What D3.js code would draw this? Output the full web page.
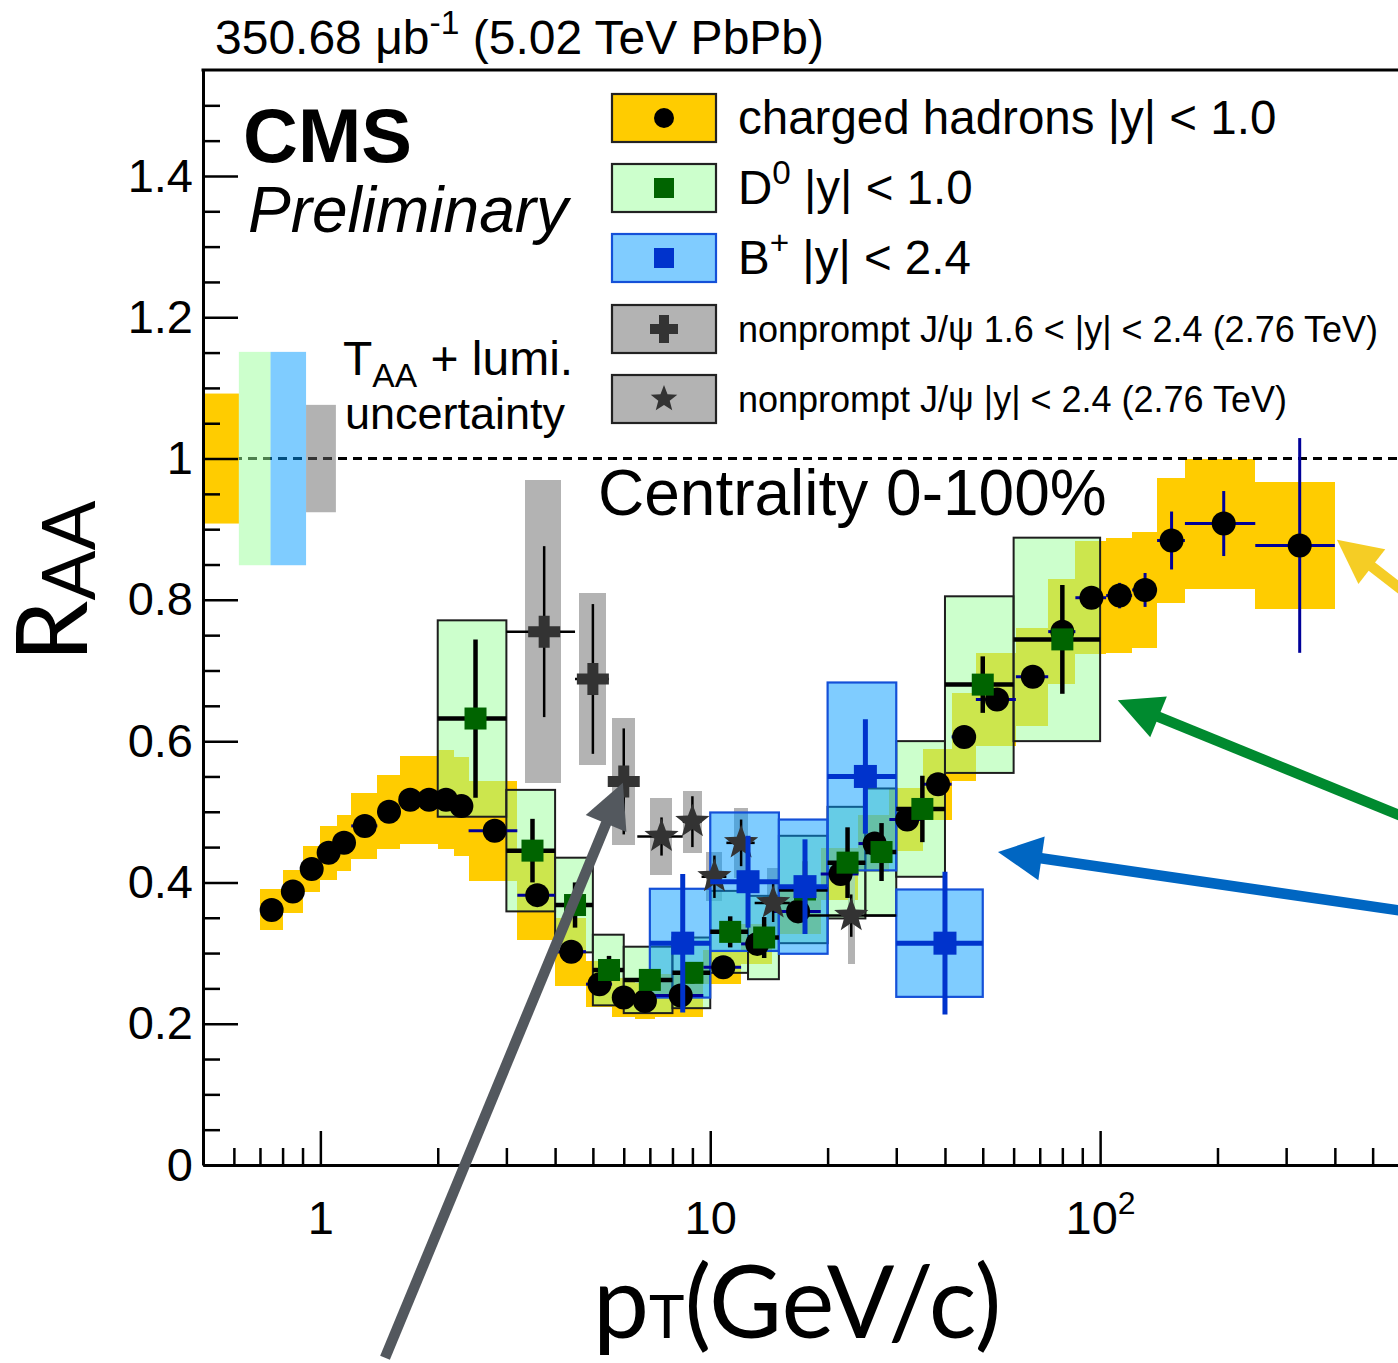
<!DOCTYPE html>
<html>
<head>
<meta charset="utf-8">
<script src="https://cdnjs.cloudflare.com/ajax/libs/d3/7.8.5/d3.min.js"></script>
<style>
body { margin: 0; background: #fff; }
svg { display: block; }
text { font-family: "Liberation Sans", Arial, Helvetica, sans-serif; fill: #000; }
.title-font { font-family: Lato, "Open Sans", sans-serif; }
</style>
</head>
<body>
<svg id="chart" width="1398" height="1363"></svg>
<script>
// charged hadrons |y| < 1.0
const hadronEdges = [0.7, 0.8, 0.9, 1.0, 1.1, 1.2, 1.4, 1.6, 1.8, 2.0, 2.2, 2.4, 3.2, 4.0, 4.8, 5.6, 6.4, 7.2, 9.6, 12, 14.4, 19.2, 24, 28.8, 35.2, 41.6, 48, 60.8, 73.6, 86.4, 103.6, 120.8, 140, 165, 250, 400];
const hadronPt = [0.75, 0.85, 0.95, 1.05, 1.15, 1.3, 1.5, 1.7, 1.9, 2.1, 2.3, 2.8, 3.6, 4.4, 5.2, 6.0, 6.8, 8.4, 10.8, 13.2, 16.8, 21.6, 26.4, 32, 38.4, 44.8, 54.4, 67.2, 80, 95, 112.2, 130.4, 152.5, 207.5, 325];
const hadronRaa = [0.361, 0.387, 0.419, 0.442, 0.456, 0.480, 0.500, 0.517, 0.517, 0.517, 0.508, 0.473, 0.382, 0.302, 0.256, 0.237, 0.232, 0.240, 0.280, 0.313, 0.359, 0.412, 0.455, 0.489, 0.539, 0.606, 0.659, 0.691, 0.755, 0.803, 0.806, 0.814, 0.884, 0.908, 0.877];
const hadronStat = [0.002, 0.002, 0.002, 0.002, 0.002, 0.002, 0.002, 0.002, 0.002, 0.002, 0.002, 0.003, 0.003, 0.003, 0.003, 0.003, 0.003, 0.004, 0.004, 0.004, 0.005, 0.005, 0.006, 0.006, 0.007, 0.008, 0.009, 0.010, 0.012, 0.015, 0.018, 0.024, 0.041, 0.046, 0.152];
const hadronSyst = [0.029, 0.030, 0.033, 0.038, 0.040, 0.047, 0.052, 0.062, 0.062, 0.070, 0.070, 0.071, 0.064, 0.048, 0.033, 0.027, 0.026, 0.030, 0.024, 0.028, 0.032, 0.037, 0.040, 0.044, 0.050, 0.062, 0.066, 0.069, 0.074, 0.080, 0.081, 0.082, 0.089, 0.092, 0.090];

// D0 |y| < 1.0
const d0Edges = [2, 3, 4, 5, 6, 8, 10, 12.5, 15, 20, 25, 30, 40, 60, 100];
const d0Pt = [2.5, 3.5, 4.5, 5.5, 7, 9, 11.25, 13.75, 17.5, 22.5, 27.5, 35, 50, 80];
const d0Raa = [0.632, 0.445, 0.368, 0.276, 0.262, 0.272, 0.330, 0.322, 0.390, 0.428, 0.443, 0.504, 0.680, 0.744];
const d0Stat = [0.112, 0.045, 0.032, 0.020, 0.015, 0.015, 0.022, 0.029, 0.040, 0.050, 0.041, 0.047, 0.040, 0.077];
const d0Syst = [0.139, 0.086, 0.067, 0.050, 0.047, 0.050, 0.058, 0.059, 0.076, 0.079, 0.090, 0.096, 0.125, 0.144];

// B+ |y| < 2.4
const bEdges = [7, 10, 15, 20, 30, 50];
const bPt = [8.5, 12.5, 17.5, 25, 40];
const bRaa = [0.314, 0.401, 0.394, 0.550, 0.314];
const bStat = [0.098, 0.065, 0.067, 0.081, 0.101];
const bSyst = [0.077, 0.098, 0.095, 0.133, 0.076];

// nonprompt J/psi 1.6 < |y| < 2.4 (2.76 TeV)
const fwdPt = [3.75, 5.0, 6.0];
const fwdLo = [3.0, 4.5, 5.5];
const fwdHi = [4.5, 5.5, 6.5];
const fwdRaa = [0.755, 0.688, 0.543];
const fwdStat = [0.121, 0.106, 0.075];
const fwdSyst = [0.214, 0.122, 0.090];
const fwdBoxHalf = 0.4;

// nonprompt J/psi |y| < 2.4 (2.76 TeV)
const midPt = [7.5, 9.0, 10.25, 12.0, 14.5, 23.0];
const midLo = [6.5, 8.5, 9.5, 11, 13, 16];
const midHi = [8.5, 9.5, 11, 13, 16, 30];
const midRaa = [0.465, 0.486, 0.408, 0.456, 0.371, 0.353];
const midStat = [0.027, 0.036, 0.030, 0.033, 0.027, 0.030];
const midSyst = [0.054, 0.044, 0.035, 0.050, 0.050, 0.069];
const midBoxHalf = 0.5;

// TAA + lumi. uncertainty boxes at RAA = 1
const taaEdges = [0.5, 0.618, 0.745, 0.919, 1.096];
const taaUnc = [0.092, 0.151, 0.151, 0.076];

// pointer arrows (tip and tail, in pT / RAA)
const arrowTipPt = [5.97, 405, 111, 54.7];
const arrowTipRaa = [0.541, 0.885, 0.658, 0.443];
const arrowTailPt = [1.465, 789, 789, 789];
const arrowTailRaa = [-0.273, 0.762, 0.466, 0.350];
const arrowColours = ["#53585e", "#f5cd25", "#008a2f", "#0066c2"];

const yTickValues = [0, 0.2, 0.4, 0.6, 0.8, 1, 1.2, 1.4];
const xTickValues = [1, 10, 100];
const xMinorValues = [0.6, 0.7, 0.8, 0.9, 2, 3, 4, 5, 6, 7, 8, 9, 20, 30, 40, 50, 60, 70, 80, 90, 200, 300, 400, 500, 600, 700, 800, 900];

const svg = d3.select("#chart");
const margin = { top: 70, left: 203 };
const plotW = 1287, plotH = 1095;

const x = d3.scaleLog().domain([0.5, 1000]).range([margin.left, margin.left + plotW]);
const y = d3.scaleLinear().domain([0, 1.55]).range([margin.top + plotH, margin.top]);

svg.append("defs").append("clipPath").attr("id", "plot-clip")
    .append("rect")
    .attr("x", margin.left).attr("y", margin.top)
    .attr("width", plotW).attr("height", plotH);

const plot = svg.append("g").attr("clip-path", "url(#plot-clip)");

const makeRows = (pts, lo, hi, raa, stat, syst) => pts.map((pt, i) => ({ pt, lo: lo[i], hi: hi[i], raa: raa[i], stat: stat[i], syst: syst[i] }));

const hadrons = makeRows(hadronPt, hadronEdges.slice(0, -1), hadronEdges.slice(1), hadronRaa, hadronStat, hadronSyst);
const d0s = makeRows(d0Pt, d0Edges.slice(0, -1), d0Edges.slice(1), d0Raa, d0Stat, d0Syst);
const bs = makeRows(bPt, bEdges.slice(0, -1), bEdges.slice(1), bRaa, bStat, bSyst);
const fwd = makeRows(fwdPt, fwdLo, fwdHi, fwdRaa, fwdStat, fwdSyst);
const mid = makeRows(midPt, midLo, midHi, midRaa, midStat, midSyst);

const systBoxes = (cls, data, x0, x1, fill, stroke, strokeWidth) => {
    plot.selectAll("." + cls)
        .data(data)
        .join("rect")
        .attr("class", cls)
        .attr("x", d => x(x0(d)))
        .attr("width", d => x(x1(d)) - x(x0(d)))
        .attr("y", d => y(d.raa + d.syst))
        .attr("height", d => y(d.raa - d.syst) - y(d.raa + d.syst))
        .attr("fill", fill)
        .attr("stroke", stroke)
        .attr("stroke-width", strokeWidth)
        .attr("shape-rendering", stroke === "none" ? "crispEdges" : null);
};

const errorBars = (cls, data, colour, width) => {
    const g = plot.append("g").attr("class", cls).attr("stroke", colour).attr("stroke-width", width);
    g.selectAll(".v").data(data).join("line").attr("class", "v")
        .attr("x1", d => x(d.pt)).attr("x2", d => x(d.pt))
        .attr("y1", d => y(d.raa - d.stat)).attr("y2", d => y(d.raa + d.stat));
    g.selectAll(".h").data(data).join("line").attr("class", "h")
        .attr("x1", d => x(d.lo)).attr("x2", d => x(d.hi))
        .attr("y1", d => y(d.raa)).attr("y2", d => y(d.raa));
};

const crossPath = (s, t) => `M${-t},${-s}H${t}V${-t}H${s}V${t}H${t}V${s}H${-t}V${t}H${-s}V${-t}H${-t}Z`;
const starPath = (R, r) => {
    let p = "";
    for (let k = 0; k < 10; k++) {
        const a = -Math.PI / 2 + k * Math.PI / 5;
        const rad = k % 2 ? r : R;
        p += (k ? "L" : "M") + (rad * Math.cos(a)).toFixed(2) + "," + (rad * Math.sin(a)).toFixed(2);
    }
    return p + "Z";
};

// boxes: yellow hadron systematics, grey J/psi systematics
systBoxes("hadron-box", hadrons, d => d.lo, d => d.hi, "#ffcc00", "none", 0);
systBoxes("fwd-box", fwd, d => d.pt - fwdBoxHalf, d => d.pt + fwdBoxHalf, "#b3b3b3", "none", 0);
systBoxes("mid-box", mid, d => d.pt - midBoxHalf, d => d.pt + midBoxHalf, "#b3b3b3", "none", 0);

// unity line
plot.append("line")
    .attr("x1", margin.left).attr("x2", margin.left + plotW)
    .attr("y1", y(1)).attr("y2", y(1))
    .attr("stroke", "#000").attr("stroke-width", 3).attr("stroke-dasharray", "9,6");

// TAA + lumi boxes
const taaFills = ["#ffcc00", "rgba(153,255,153,0.5)", "rgba(0,153,255,0.5)", "rgba(102,102,102,0.5)"];
plot.selectAll(".taa-box")
    .data(taaUnc)
    .join("rect")
    .attr("class", "taa-box")
    .attr("x", (d, i) => x(taaEdges[i]))
    .attr("width", (d, i) => x(taaEdges[i + 1]) - x(taaEdges[i]))
    .attr("y", d => y(1 + d))
    .attr("height", d => y(1 - d) - y(1 + d))
    .attr("fill", (d, i) => taaFills[i]);

systBoxes("d0-box", d0s, d => d.lo, d => d.hi, "rgba(153,255,153,0.5)", "#1e1e1e", 2);
systBoxes("b-box", bs, d => d.lo, d => d.hi, "rgba(0,153,255,0.5)", "#1450d8", 2.2);

// hadrons
errorBars("hadron-err", hadrons, "#000099", 3);
plot.selectAll(".hadron-dot").data(hadrons).join("circle").attr("class", "hadron-dot")
    .attr("cx", d => x(d.pt)).attr("cy", d => y(d.raa)).attr("r", 12).attr("fill", "#000");

// nonprompt J/psi
errorBars("fwd-err", fwd, "#000", 2.5);
errorBars("mid-err", mid, "#000", 2.5);
plot.selectAll(".fwd-mark").data(fwd).join("path").attr("class", "fwd-mark")
    .attr("d", crossPath(16, 5.5))
    .attr("transform", d => `translate(${x(d.pt)},${y(d.raa)})`)
    .attr("fill", "#333333");
plot.selectAll(".mid-mark").data(mid).join("path").attr("class", "mid-mark")
    .attr("d", starPath(18, 7.5))
    .attr("transform", d => `translate(${x(d.pt)},${y(d.raa)})`)
    .attr("fill", "#333333");

// D0
errorBars("d0-err", d0s, "#000", 4.5);
plot.selectAll(".d0-mark").data(d0s).join("rect").attr("class", "d0-mark")
    .attr("x", d => x(d.pt) - 11).attr("y", d => y(d.raa) - 11)
    .attr("width", 22).attr("height", 22).attr("fill", "#006400");

// B+
errorBars("b-err", bs, "#0033cc", 5);
plot.selectAll(".b-mark").data(bs).join("rect").attr("class", "b-mark")
    .attr("x", d => x(d.pt) - 11.5).attr("y", d => y(d.raa) - 11.5)
    .attr("width", 23).attr("height", 23).attr("fill", "#0033cc");

// axes
const axisStyle = g => {
    g.attr("font-family", null).attr("font-size", null);
    g.select(".domain").attr("stroke", "#000").attr("stroke-width", 3);
    g.selectAll(".tick line").attr("stroke", "#000").attr("stroke-width", 2.5);
    g.selectAll(".tick text").attr("font-size", 47).attr("fill", "#000");
};

svg.append("g")
    .attr("transform", `translate(${margin.left},0)`)
    .call(d3.axisLeft(y).tickValues(d3.range(1, 31).map(k => k * 0.05).filter(v => Math.abs(v * 5 - Math.round(v * 5)) > 1e-6)).tickSize(-17).tickFormat(""))
    .call(g => g.select(".domain").remove())
    .call(axisStyle);

svg.append("g")
    .attr("transform", `translate(${margin.left},0)`)
    .call(d3.axisLeft(y).tickValues(yTickValues).tickSizeInner(-35).tickSizeOuter(0).tickPadding(10).tickFormat(d3.format("~g")))
    .call(axisStyle);

svg.append("g")
    .attr("transform", `translate(0,${margin.top + plotH})`)
    .call(d3.axisBottom(x).tickValues(xMinorValues).tickSize(-17).tickFormat(""))
    .call(g => g.select(".domain").remove())
    .call(axisStyle);

svg.append("g")
    .attr("transform", `translate(0,${margin.top + plotH})`)
    .call(d3.axisBottom(x).tickValues(xTickValues).tickSizeInner(-34).tickSizeOuter(0).tickPadding(36).tickFormat(d => d))
    .call(axisStyle)
    .call(g => g.selectAll(".tick text").each(function (d) {
        if (d === 100) {
            const t = d3.select(this).text("10");
            t.append("tspan").attr("dy", -20).attr("font-size", 32).text("2");
        }
    }));

// top frame line
svg.append("line")
    .attr("x1", margin.left - 1.5).attr("x2", margin.left + plotW)
    .attr("y1", margin.top).attr("y2", margin.top)
    .attr("stroke", "#000").attr("stroke-width", 3);

// texts
const rich = (parent, px, py, size, parts) => {
    const t = parent.append("text").attr("x", px).attr("y", py).attr("font-size", size);
    let shift = 0;
    parts.forEach(p => {
        const target = p.sup ? -size * 0.42 : p.sub ? size * 0.25 : 0;
        const ts = t.append("tspan").attr("dy", target - shift).text(p.t);
        if (p.sup || p.sub) ts.attr("font-size", size * (p.scale || 0.7));
        shift = target;
    });
    return t;
};

rich(svg, 215, 54, 48, [{ t: "350.68 μb" }, { t: "-1", sup: true }, { t: " (5.02 TeV PbPb)" }]);

svg.append("text").attr("x", 243).attr("y", 162).attr("font-size", 76).attr("font-weight", "bold").text("CMS");
svg.append("text").attr("x", 248).attr("y", 232).attr("font-size", 64).attr("font-style", "italic").text("Preliminary");

rich(svg, 343, 375, 48, [{ t: "T" }, { t: "AA", sub: true, scale: 0.7 }, { t: " + lumi." }]);
svg.append("text").attr("x", 345).attr("y", 429).attr("font-size", 45).text("uncertainty");

svg.append("text").attr("x", 598).attr("y", 515).attr("font-size", 64).text("Centrality 0-100%");

// legend
const legendRows = [
    { y: 118, fill: "#ffcc00", stroke: "#222", parts: [{ t: "charged hadrons |y| < 1.0" }], size: 47.5, mark: "circle" },
    { y: 188, fill: "#ccffcc", stroke: "#222", parts: [{ t: "D" }, { t: "0", sup: true }, { t: " |y| < 1.0" }], size: 47.5, mark: "d0" },
    { y: 258, fill: "#80ccff", stroke: "#1450d8", parts: [{ t: "B" }, { t: "+", sup: true }, { t: " |y| < 2.4" }], size: 47.5, mark: "b" },
    { y: 329, fill: "#b3b3b3", stroke: "#222", parts: [{ t: "nonprompt J/ψ 1.6 < |y| < 2.4 (2.76 TeV)" }], size: 36, mark: "cross" },
    { y: 399, fill: "#b3b3b3", stroke: "#222", parts: [{ t: "nonprompt J/ψ |y| < 2.4 (2.76 TeV)" }], size: 36, mark: "star" }
];

const legend = svg.append("g").attr("class", "legend");
legendRows.forEach(row => {
    legend.append("rect").attr("x", 612).attr("y", row.y - 24).attr("width", 104).attr("height", 48)
        .attr("fill", row.fill).attr("stroke", row.stroke).attr("stroke-width", 2.2);
    if (row.mark === "circle") legend.append("circle").attr("cx", 664).attr("cy", row.y).attr("r", 10).attr("fill", "#000");
    if (row.mark === "d0") legend.append("rect").attr("x", 654).attr("y", row.y - 10).attr("width", 20).attr("height", 20).attr("fill", "#006400");
    if (row.mark === "b") legend.append("rect").attr("x", 654).attr("y", row.y - 10).attr("width", 20).attr("height", 20).attr("fill", "#0033cc");
    if (row.mark === "cross") legend.append("path").attr("d", crossPath(14, 5)).attr("transform", `translate(664,${row.y})`).attr("fill", "#333");
    if (row.mark === "star") legend.append("path").attr("d", starPath(14, 6)).attr("transform", `translate(664,${row.y})`).attr("fill", "#333");
    rich(legend, 738, row.y + (row.size > 40 ? 16 : 13), row.size, row.parts);
});

// axis titles
const yTitle = svg.append("text").attr("class", "title-font")
    .attr("transform", "translate(87,662) rotate(-90)")
    .attr("font-size", 98);
yTitle.append("tspan").text("R");
yTitle.append("tspan").attr("font-size", 74).attr("dy", 8).text("AA");

const xTitle = svg.append("text").attr("class", "title-font")
    .attr("x", 593).attr("y", 1338).attr("font-size", 100);
xTitle.append("tspan").text("p");
xTitle.append("tspan").attr("font-size", 60).text("T");
xTitle.append("tspan").text("(GeV/c)");

// pointer arrows
const arrows = svg.append("g").attr("class", "arrows");
arrowTipPt.forEach((pt, i) => {
    const tx = x(pt), ty = y(arrowTipRaa[i]);
    const sx = x(arrowTailPt[i]), sy = y(arrowTailRaa[i]);
    const len = Math.hypot(tx - sx, ty - sy);
    const ux = (tx - sx) / len, uy = (ty - sy) / len;
    const headLen = 44, headHalf = 22;
    const bx = tx - ux * headLen, by = ty - uy * headLen;
    arrows.append("line")
        .attr("x1", sx).attr("y1", sy).attr("x2", bx + ux * 4).attr("y2", by + uy * 4)
        .attr("stroke", arrowColours[i]).attr("stroke-width", 10.5);
    arrows.append("path")
        .attr("d", `M${tx},${ty}L${bx - uy * headHalf},${by + ux * headHalf}L${bx + uy * headHalf},${by - ux * headHalf}Z`)
        .attr("fill", arrowColours[i]);
});
</script>
</body>
</html>
